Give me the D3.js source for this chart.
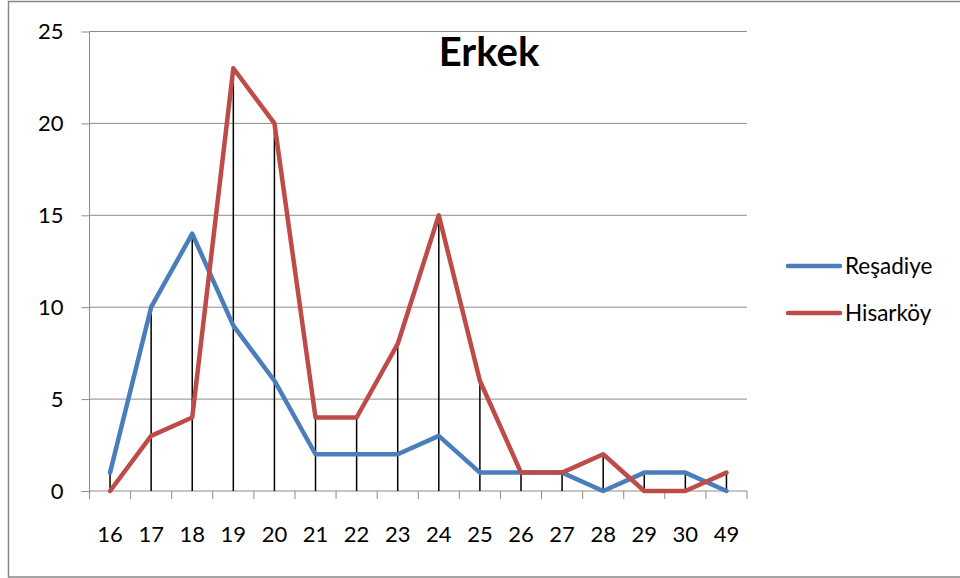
<!DOCTYPE html>
<html>
<head>
<meta charset="utf-8">
<script src="https://cdn.jsdelivr.net/npm/d3@7"></script>
<style>
  body { margin: 0; background: #fff; }
  text { font-family: Lato, "Open Sans", sans-serif; }
</style>
</head>
<body>
<div id="chart"></div>
<script>
// data
var categories = ['16', '17', '18', '19', '20', '21', '22', '23', '24', '25', '26', '27', '28', '29', '30', '49'];
var resadiye = [1, 10, 14, 9, 6, 2, 2, 2, 3, 1, 1, 1, 0, 1, 1, 0];
var hisarkoy = [0, 3, 4, 23, 20, 4, 4, 8, 15, 6, 1, 1, 2, 0, 0, 1];
var yTicks = [0, 5, 10, 15, 20, 25];
var seriesNames = ['Reşadiye', 'Hisarköy'];
var colors = ['#4a7ebb', '#be4b48'];

var width = 960, height = 578;
var plot = {left: 89.5, right: 747, top: 31.5, bottom: 491};

var svg = d3.select('#chart').append('svg')
  .attr('width', width)
  .attr('height', height);

// outer frame
svg.append('rect')
  .attr('x', 8.5).attr('y', 1.5)
  .attr('width', 960).attr('height', 575.5)
  .attr('fill', 'none')
  .attr('stroke', '#868686')
  .attr('stroke-width', 1.5);

var xScale = d3.scaleBand()
  .domain(categories)
  .range([plot.left, plot.right]);

var yScale = d3.scaleLinear()
  .domain([0, 25])
  .range([plot.bottom, plot.top]);

function cx(c) { return xScale(c) + xScale.bandwidth() / 2; }

// gridlines
svg.append('g')
  .selectAll('line')
  .data(yTicks.filter(function (d) { return d > 0; }))
  .enter().append('line')
  .attr('x1', plot.left).attr('x2', plot.right)
  .attr('y1', function (d) { return yScale(d); })
  .attr('y2', function (d) { return yScale(d); })
  .attr('stroke', '#8c8c8c')
  .attr('stroke-width', 1);

// y axis
var yAxis = svg.append('g')
  .attr('transform', 'translate(' + plot.left + ',0)')
  .call(d3.axisLeft(yScale).tickValues(yTicks).tickSize(8).tickPadding(18));
yAxis.selectAll('line, path').attr('stroke', '#8c8c8c');
yAxis.select('.domain').attr('d', 'M0,' + plot.top + 'V' + plot.bottom);
yAxis.selectAll('text')
  .attr('font-size', 22)
  .attr('fill', '#000')
  .style('font-family', 'Lato, "Open Sans", sans-serif');

// x axis with ticks between categories
var xAxis = svg.append('g')
  .attr('transform', 'translate(0,' + plot.bottom + ')');
xAxis.append('line')
  .attr('x1', plot.left).attr('x2', plot.right)
  .attr('stroke', '#8c8c8c');
var edges = categories.map(function (c) { return xScale(c); }).concat([plot.right]);
xAxis.selectAll('.tk')
  .data(edges)
  .enter().append('line')
  .attr('class', 'tk')
  .attr('x1', function (d) { return d; })
  .attr('x2', function (d) { return d; })
  .attr('y1', 0).attr('y2', 8)
  .attr('stroke', '#8c8c8c');
xAxis.selectAll('text')
  .data(categories)
  .enter().append('text')
  .attr('x', cx)
  .attr('y', 51)
  .attr('text-anchor', 'middle')
  .attr('font-size', 22)
  .text(function (d) { return d; });

// drop lines from the highest point down to the axis
svg.append('g')
  .selectAll('line')
  .data(categories)
  .enter().append('line')
  .attr('x1', cx).attr('x2', cx)
  .attr('y1', function (d, i) { return yScale(Math.max(resadiye[i], hisarkoy[i])); })
  .attr('y2', yScale(0))
  .attr('stroke', '#000')
  .attr('stroke-width', 1.5);

var lineGen = d3.line()
  .x(function (d, i) { return cx(categories[i]); })
  .y(function (d) { return yScale(d); });

[resadiye, hisarkoy].forEach(function (s, k) {
  svg.append('path')
    .datum(s)
    .attr('d', lineGen)
    .attr('fill', 'none')
    .attr('stroke', colors[k])
    .attr('stroke-width', 4.5)
    .attr('stroke-linejoin', 'round')
    .attr('stroke-linecap', 'round');
});

// title
svg.append('text')
  .attr('x', 489)
  .attr('y', 66)
  .attr('text-anchor', 'middle')
  .attr('font-size', 40)
  .attr('font-weight', 'bold')
  .text('Erkek');

// legend
var legend = svg.append('g');
seriesNames.forEach(function (name, k) {
  var y = 266 + k * 47;
  legend.append('line')
    .attr('x1', 788).attr('x2', 840)
    .attr('y1', y).attr('y2', y)
    .attr('stroke', colors[k])
    .attr('stroke-width', 4.5)
    .attr('stroke-linecap', 'round');
  legend.append('text')
    .attr('x', 845)
    .attr('y', y + 8)
    .attr('font-size', 22.5)
    .text(name);
});
</script>
</body>
</html>
